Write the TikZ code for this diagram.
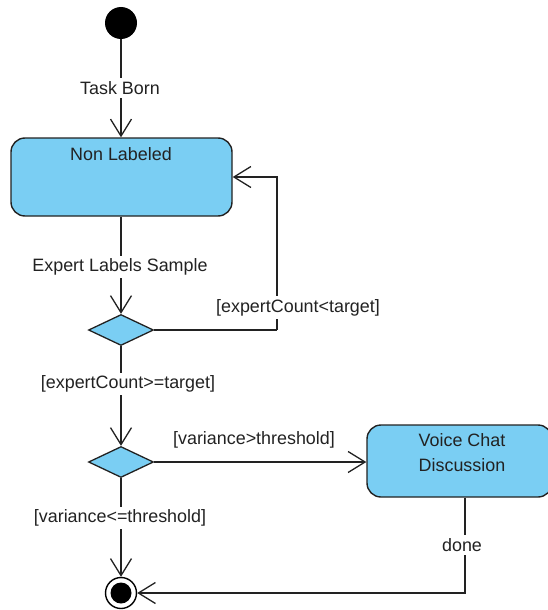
\documentclass[tikz,border=0pt]{standalone}
\usepackage{fontspec}
\setmainfont{Liberation Sans}
\usetikzlibrary{shapes.geometric,arrows.meta}
\definecolor{stateblue}{RGB}{122,206,243}
\definecolor{inkgray}{RGB}{34,34,34}
\begin{document}
\begin{tikzpicture}[x=1pt,y=-1pt,
  every node/.style={font=\fontsize{17.9}{25}\selectfont, text=inkgray},
  statebox/.style={draw=inkgray, line width=1.4pt, fill=stateblue, rounded corners=14pt, inner sep=0pt},
  decision/.style={diamond, draw=inkgray, line width=1.3pt, fill=stateblue, minimum width=65pt, minimum height=31pt, inner sep=0pt},
  startdot/.style={circle, fill=black, minimum size=32pt, inner sep=0pt},
  enddot/.style={circle, draw=black, line width=1.4pt, fill=white, minimum size=31pt, inner sep=0pt},
  flow/.style={draw=inkgray, line width=1.3pt, -{Straight Barb[length=17pt,width=21pt,line width=1.3pt]}},
  plain/.style={draw=inkgray, line width=1.3pt},
  lbl/.style={fill=white, inner xsep=1pt, inner ysep=3pt}
]
\useasboundingbox (0,0) rectangle (548,610);

% nodes
\node[startdot] (start) at (121,23) {};
\node[statebox, minimum width=221pt, minimum height=78pt] (nonlab) at (121.5,177) {};
\node[anchor=center] (nonlabtxt) at (121,154) {Non Labeled};
\node[decision] (d1) at (121,330) {};
\node[decision] (d2) at (121,462) {};
\node[statebox, minimum width=185pt, minimum height=72pt] (voice) at (459.5,461) {};
\node[align=center] (voicetxt) at (462,453) {Voice Chat\\Discussion};
\node[enddot] (stop) at (121,593) {};
\fill[black] (stop.center) circle (10.5pt);

% corner points of the loop-back and exit paths
\coordinate (loopdn) at (277,330);
\coordinate (loopup) at (277,177);
\coordinate (donecorner) at (465,593);

% connectors
\draw[flow] (start) -- (nonlab.north -| start);
\draw[flow] (nonlab.south -| d1) -- (d1.north);
\draw[plain] (d1.east) -- (loopdn);
\draw[flow] (loopdn) -- (loopup) -- (loopup -| nonlab.east);
\draw[flow] (d1.south) -- (d2.north);
\draw[flow] (d2.east) -- (d2.east -| voice.west);
\draw[flow] (d2.south) -- (stop.north);
\draw[flow] (voice.south -| donecorner) -- (donecorner) -- (stop.east);

% connector labels
\node[lbl] (lbtask) at (120,88) {Task Born};
\node[lbl] (lbexpert) at (120,267) {Expert Labels Sample};
\node[lbl] (lblt) at (298,307.5) {[expertCount<target]};
\node[lbl] (lbge) at (128,384) {[expertCount>=target]};
\node (lbgt) at (254,440) {[variance>threshold]};
\node[lbl] (lble) at (120,518) {[variance<=threshold]};
\node[lbl] (lbdone) at (462,545) {done};
\end{tikzpicture}
\end{document}
